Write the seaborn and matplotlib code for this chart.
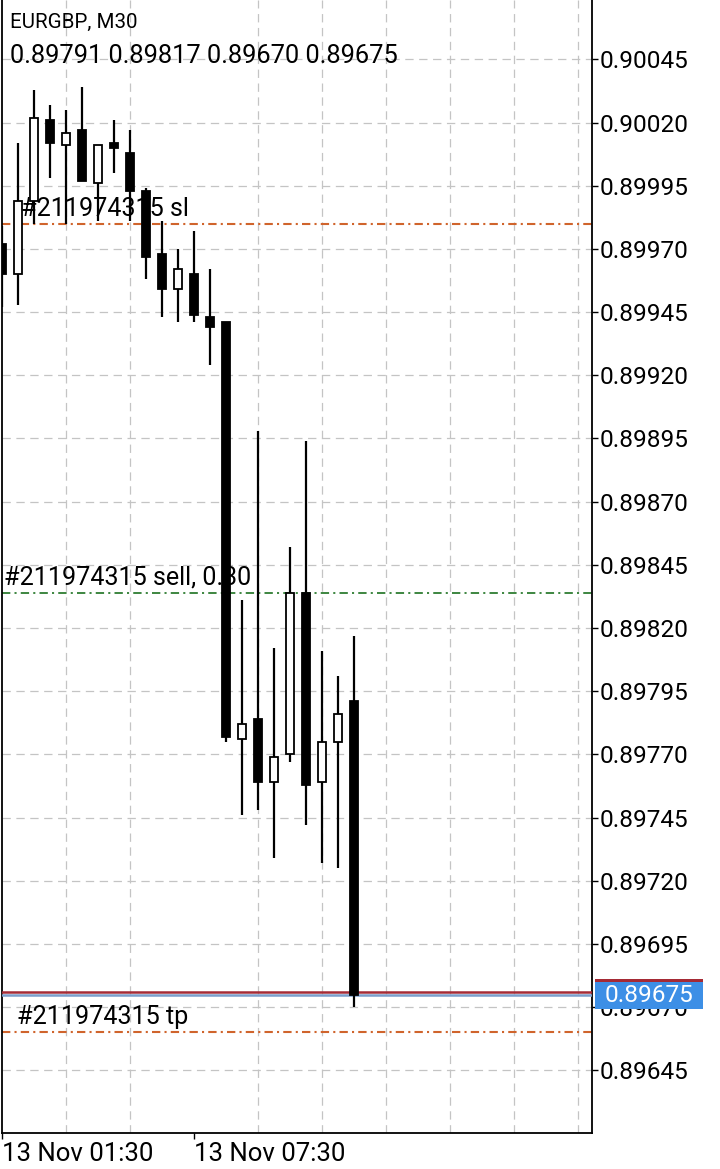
import numpy as np
import matplotlib
matplotlib.use('Agg')
import matplotlib.pyplot as plt
import matplotlib.transforms as mtransforms
from matplotlib.patches import Rectangle
from matplotlib.ticker import MultipleLocator, FixedLocator, FormatStrFormatter
import seaborn as sns

# EURGBP M30 candles
opens  = [0.89972, 0.89960, 0.89989, 0.90021, 0.90011, 0.90017, 0.89996, 0.90012,
          0.90008, 0.89993, 0.89968, 0.89954, 0.89960, 0.89943, 0.89941, 0.89776,
          0.89784, 0.89759, 0.89770, 0.89834, 0.89759, 0.89775, 0.89791]
highs  = [0.89979, 0.90012, 0.90033, 0.90027, 0.90025, 0.90034, 0.90011, 0.90021,
          0.90017, 0.89994, 0.89981, 0.89970, 0.89977, 0.89962, 0.89941, 0.89831,
          0.89898, 0.89812, 0.89852, 0.89894, 0.89811, 0.89801, 0.89817]
lows   = [0.89947, 0.89948, 0.89980, 0.89998, 0.89980, 0.89997, 0.89981, 0.90000,
          0.89981, 0.89958, 0.89943, 0.89941, 0.89941, 0.89924, 0.89775, 0.89746,
          0.89748, 0.89729, 0.89767, 0.89742, 0.89727, 0.89725, 0.89670]
closes = [0.89960, 0.89989, 0.90022, 0.90012, 0.90016, 0.89997, 0.90011, 0.90010,
          0.89993, 0.89967, 0.89954, 0.89962, 0.89944, 0.89939, 0.89777, 0.89782,
          0.89759, 0.89769, 0.89834, 0.89758, 0.89775, 0.89786, 0.89675]

tick_pos = [0, 12]
tick_labels = ['13 Nov 01:30', '13 Nov 07:30']

order_id = '211974315'
sl_price = 0.89980
entry_price = 0.89834
tp_price = 0.89660
ask_price = 0.89676
bid_price = 0.89675

sns.set_theme(style='white')
plt.rcParams['font.family'] = ['Roboto', 'DejaVu Sans']
plt.rcParams['text.color'] = 'black'
plt.rcParams['lines.scale_dashes'] = False

fig = plt.figure(figsize=(7.2, 11.69), dpi=100)
ax = fig.add_axes([2/720, 36/1169, 590/720, 1133/1169])

o = np.array(opens); h = np.array(highs); l = np.array(lows); c = np.array(closes)
x = np.arange(len(o))
up = c >= o

# wicks then bodies
ax.vlines(x, l, h, color='black', lw=1.6, zorder=4)
ax.bar(x, np.abs(c - o), bottom=np.minimum(o, c), width=0.56,
       color=np.where(up, 'white', 'black'), edgecolor='black',
       linewidth=1.3, zorder=5)

# order levels
dashdot = (0, (6, 3, 1.5, 3))
ax.axhline(sl_price, color='#d0642c', lw=1.5, ls=dashdot, zorder=2)
ax.axhline(tp_price, color='#d0642c', lw=1.5, ls=dashdot, zorder=2)
ax.axhline(entry_price, color='#2e7d32', lw=1.3, ls=dashdot, zorder=2)
ax.axhline(ask_price, color='#a52a35', lw=1.8, zorder=3)
ax.axhline(bid_price, color='#7b9fcc', lw=1.8, zorder=3)

fs_ann = 18.1
ax.annotate('#%s sl' % order_id, xy=(1.19, sl_price), xytext=(0, 5.8),
            textcoords='offset points', va='baseline', fontsize=fs_ann, zorder=3)
ax.annotate('#%s sell, 0.30' % order_id, xy=(0.12, entry_price), xytext=(0, 5.8),
            textcoords='offset points', va='baseline', fontsize=fs_ann, zorder=3)
ax.annotate('#%s tp' % order_id, xy=(0.94, tp_price), xytext=(0, 5.8),
            textcoords='offset points', va='baseline', fontsize=fs_ann, zorder=3)

ax.set_xlim(0, 36.875)
ax.set_ylim(0.896202, 0.900685)

# axes styling
fs_y = 17.6
ax.yaxis.tick_right()
ax.yaxis.set_major_locator(MultipleLocator(0.00025, offset=0.00020))
ax.yaxis.set_major_formatter(FormatStrFormatter('%.5f'))
ax.tick_params(axis='y', direction='out', length=4, width=1, color='black',
               pad=1.5, labelsize=fs_y, labelcolor='black', right=True)
ax.xaxis.set_major_locator(FixedLocator(tick_pos))
ax.set_xticklabels(tick_labels)
ax.xaxis.set_minor_locator(MultipleLocator(4))
ax.tick_params(axis='x', which='major', direction='out', length=4.5, width=1,
               color='black', pad=2, labelsize=18.5, labelcolor='black', bottom=True)
ax.tick_params(axis='x', which='minor', length=0)
for t in ax.get_xticklabels():
    t.set_ha('left')

grid_kw = dict(color='#c4c4c4', lw=0.9, ls=(0, (6, 4)))
ax.grid(False)
ax.yaxis.grid(True, which='major', **grid_kw)
ax.xaxis.grid(True, which='minor', **grid_kw)
ax.set_axisbelow(True)

for s in ['left', 'right', 'bottom']:
    ax.spines[s].set_visible(True)
    ax.spines[s].set_color('black')
    ax.spines[s].set_linewidth(1.3)
ax.spines['top'].set_visible(False)

# price labels on the scale (ask box peeks out above the bid box)
trans = mtransforms.blended_transform_factory(ax.transAxes, ax.transData)
box_h = 10.7e-5
box_w = 108 / 590
ax.add_patch(Rectangle((1.005, ask_price - box_h / 2 - 0.2e-5), box_w, box_h,
                       transform=trans, fc='#a52a35', ec='none',
                       clip_on=False, zorder=20))
ax.add_patch(Rectangle((1.005, bid_price - box_h / 2 - 0.4e-5), box_w, box_h,
                       transform=trans, fc='#3d8fe6', ec='none',
                       clip_on=False, zorder=21))
ax.text(1.005 + box_w / 2, bid_price - 0.4e-5, '%.5f' % bid_price, transform=trans,
        color='white', fontsize=fs_y, va='center', ha='center',
        clip_on=False, zorder=22)

# header
fig.text(10/720, 1 - 28/1169, 'EURGBP, M30', fontsize=14.8, va='baseline', ha='left')
fig.text(10/720, 1 - 63/1169,
         '%.5f %.5f %.5f %.5f' % (opens[-1], highs[-1], lows[-1], closes[-1]),
         fontsize=18.3, va='baseline', ha='left')

fig.savefig('out.png', dpi=100, facecolor='white')
